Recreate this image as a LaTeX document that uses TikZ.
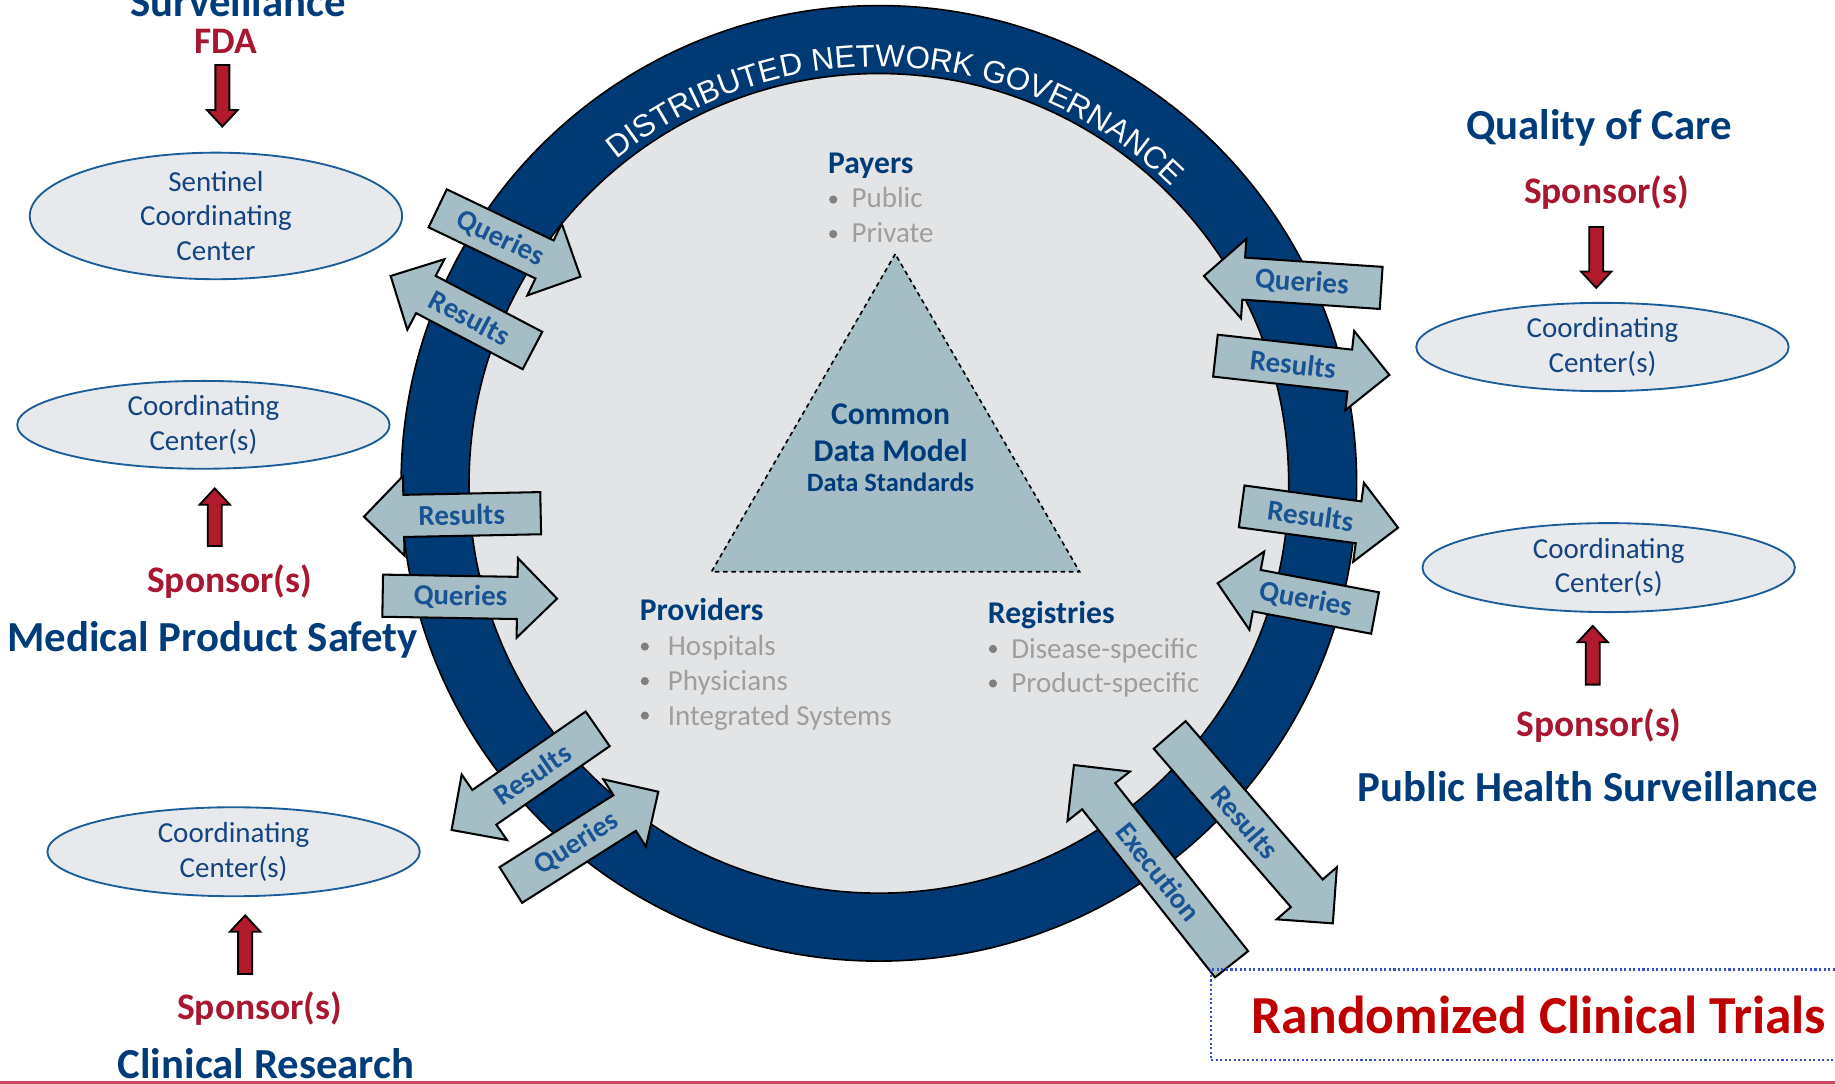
\documentclass[tikz,border=0pt]{standalone}
\usepackage{fontspec}
\setmainfont{Carlito}
\newfontfamily\ringsans{Liberation Sans}
\usetikzlibrary{calc,shapes.geometric,decorations.text}
\definecolor{titleblue}{RGB}{0,60,122}
\definecolor{ringblue}{RGB}{0,58,117}
\definecolor{sponsorred}{RGB}{168,22,48}
\definecolor{arrowred}{RGB}{178,26,46}
\definecolor{trialred}{RGB}{192,0,0}
\definecolor{hubgray}{RGB}{227,228,230}
\definecolor{ellipsefill}{RGB}{231,233,236}
\definecolor{ellipseline}{RGB}{28,92,152}
\definecolor{ellipsetext}{RGB}{20,68,128}
\definecolor{arrowteal}{RGB}{165,190,198}
\definecolor{arrowtext}{RGB}{24,84,148}
\definecolor{itemgray}{RGB}{158,158,158}
\definecolor{bulletgray}{RGB}{128,128,128}
\definecolor{dotblue}{RGB}{50,80,200}
\definecolor{rulered}{RGB}{205,75,95}

% block arrow: style, tail, tip, half shaft, half head, head length
\newcommand{\blockarrow}[6]{%
  \coordinate (ba-t) at #2;
  \coordinate (ba-p) at #3;
  \coordinate (ba-b) at ($(ba-p)!#6!(ba-t)$);
  \draw[#1] ($(ba-t)!#4!90:(ba-p)$) -- ($(ba-b)!#4!90:(ba-p)$)
    -- ($(ba-b)!#5!90:(ba-p)$) -- (ba-p)
    -- ($(ba-b)!#5!-90:(ba-p)$) -- ($(ba-b)!#4!-90:(ba-p)$)
    -- ($(ba-t)!#4!-90:(ba-p)$) -- cycle;}
% data flow arrow on the ring: tail, tip, label, label angle, name
\newcommand{\flowarrow}[5]{%
  \blockarrow{flow arrow}{#1}{#2}{0.18cm}{0.34cm}{0.34cm}
  \coordinate (ba-m) at ($(ba-t)!0.5!(ba-b)$);
  \node[flow label, rotate=#4] (#5) at ($(ba-m)!0.09cm!(ba-p)$) {#3};}

\begin{document}
\begin{tikzpicture}[x=0.01cm, y=0.01cm,
    title/.style={font=\fontsize{10.4}{12}\selectfont\bfseries, text=titleblue, anchor=base, inner sep=0pt},
    sponsor/.style={font=\fontsize{9.1}{11}\selectfont\bfseries, text=sponsorred, anchor=base, inner sep=0pt},
    centre/.style={ellipse, draw=ellipseline, line width=0.45pt, fill=ellipsefill, minimum width=3.18cm,
        minimum height=0.76cm, inner sep=0pt, align=center, font=\fontsize{7.05}{8.4}\selectfont, text=ellipsetext},
    flow arrow/.style={draw=black, fill=arrowteal, line width=0.5pt},
    flow label/.style={font=\fontsize{7.05}{8}\selectfont\bfseries, text=arrowtext, inner sep=0pt},
    sponsor arrow/.style={draw=black, fill=arrowred, line width=0.45pt},
    group head/.style={font=\fontsize{7.68}{9}\selectfont\bfseries, text=titleblue, anchor=base west, inner sep=0pt},
    item/.style={font=\fontsize{7.05}{8.4}\selectfont, text=itemgray, anchor=base west, inner sep=0pt},
    bullet/.style={circle, fill=bulletgray, inner sep=0pt, minimum size=0.07cm}
]

\useasboundingbox (0,0) rectangle (1568,-926);
\clip (0,0) rectangle (1568,-926);

% === Network ring ===
\node[circle, draw=black, line width=0.4pt, fill=ringblue, minimum size=8.16cm, inner sep=0pt] (ring) at (751,-413) {};
\node[circle, draw=black, line width=0.4pt, fill=hubgray, minimum size=7cm, inner sep=0pt] (hub) at (ring.center) {};
\path[decorate, decoration={text along path, text align={fit to path},
    text={|\ringsans\fontsize{7.6}{8}\selectfont\color{white}|DISTRIBUTED NETWORK GOVERNANCE}}]
    (ring.center) ++(129:356) arc[start angle=129, end angle=45.5, radius=356];

% === Common data model ===
\draw[fill=arrowteal, dash pattern=on 1.1pt off 0.9pt, line width=0.4pt] (765,-217) -- (608,-488.5) -- (922.5,-488.5) -- cycle;
\node[group head, anchor=base] (cdm1) at (761,-363) {Common};
\node[group head, anchor=base] (cdm2) at (761,-394.5) {Data Model};
\node[group head, anchor=base, font=\fontsize{6.43}{8}\selectfont\bfseries] (cdm3) at (761,-420) {Data Standards};

% Payers
\node[group head] (payers) at (707,-148.5) {Payers};
\foreach \txt [count=\i] in {Public, Private} {
    \node[item] (pay\i) at (727,{-177.5-29.5*(\i-1)}) {\txt};
    \node[bullet] (payb\i) at (712,{-170.5-29.5*(\i-1)}) {};
}

% Providers
\node[group head] (providers) at (546,-530.5) {Providers};
\foreach \txt [count=\i] in {Hospitals, Physicians, Integrated Systems} {
    \node[item] (prov\i) at (570,{-560.5-29.5*(\i-1)}) {\txt};
    \node[bullet] (provb\i) at (551,{-552.5-29.5*(\i-1)}) {};
}

% Registries
\node[group head] (registries) at (843.5,-532.5) {Registries};
\foreach \txt [count=\i] in {Disease-specific, Product-specific} {
    \node[item] (reg\i) at (863.5,{-562.5-29.5*(\i-1)}) {\txt};
    \node[bullet] (regb\i) at (848.5,{-554.5-29.5*(\i-1)}) {};
}

% === Queries and results across the ring ===
\flowarrow{(374,-178)}{(496,-236.4)}{Queries}{-25.6}{q1}
\flowarrow{(455,-299.5)}{(333.8,-235.8)}{Results}{-27.8}{r1}
\flowarrow{(462,-438.5)}{(311,-441.5)}{Results}{1.1}{r2}
\flowarrow{(327,-509)}{(476,-511.5)}{Queries}{-1}{q2}
\flowarrow{(510.7,-622.8)}{(385.9,-709.2)}{Results}{34.7}{r3}
\flowarrow{(436.5,-756.2)}{(562.5,-676.5)}{Queries}{32.3}{q3}
\flowarrow{(1180.2,-246)}{(1028.8,-235.8)}{Queries}{-3.9}{q4}
\flowarrow{(1038.6,-303.9)}{(1187.2,-320.4)}{Results}{-6.3}{r4}
\flowarrow{(1061,-432.7)}{(1194.6,-450.9)}{Results}{-7.8}{r5}
\flowarrow{(1175,-523.8)}{(1040.5,-498.4)}{Queries}{-10.7}{q5}
\flowarrow{(999.5,-628)}{(1138.9,-789)}{Results}{-49.1}{r6}
\flowarrow{(1052.4,-823.9)}{(917.7,-653.7)}{Execution}{-51.6}{ex}

% === Left: surveillance, product safety, research ===
\node[title] (surv) at (203.6,-14.5) {Surveillance};
\node[sponsor] (fda) at (192.6,-45.6) {FDA};
\node[centre, minimum height=0.91cm] (sentinel) at (184.5,-184.5) {Sentinel\\Coordinating\\Center};
\blockarrow{sponsor arrow}{($(fda.base)+(-2.6,-9.9)$)}{($(sentinel.north)+(5.5,21.5)$)}{0.06cm}{0.13cm}{0.14cm}

\node[centre, minimum height=0.75cm] (ccmps) at (173.8,-363) {Coordinating\\Center(s)};
\node[sponsor] (spmps) at (196.2,-506) {Sponsor(s)};
\node[title] (mps) at (181.8,-556.8) {Medical Product Safety};
\blockarrow{sponsor arrow}{($(spmps.base)+(-12.7,39.5)$)}{($(ccmps.south)+(9.7,-16)$)}{0.06cm}{0.13cm}{0.14cm}

\node[centre] (cccr) at (199.6,-727.8) {Coordinating\\Center(s)};
\node[sponsor] (spcr) at (221.8,-871) {Sponsor(s)};
\node[title] (cr) at (227.3,-921.4) {Clinical Research};
\blockarrow{sponsor arrow}{($(spcr.base)+(-12.3,38.7)$)}{($(cccr.south)+(9.9,-15.5)$)}{0.06cm}{0.13cm}{0.14cm}

% === Right: quality of care, public health ===
\node[title] (qoc) at (1366.5,-119.6) {Quality of Care};
\node[sponsor] (spqoc) at (1372.7,-174.3) {Sponsor(s)};
\node[centre, minimum height=0.754cm] (ccqoc) at (1369.3,-296.5) {Coordinating\\Center(s)};
\blockarrow{sponsor arrow}{($(spqoc.base)+(-8.7,-19.7)$)}{($(ccqoc.north)+(-5.3,12)$)}{0.06cm}{0.13cm}{0.14cm}

\node[centre] (ccphs) at (1374.6,-485) {Coordinating\\Center(s)};
\node[sponsor] (spphs) at (1366.5,-629) {Sponsor(s)};
\node[title] (phs) at (1357,-685) {Public Health Surveillance};
\blockarrow{sponsor arrow}{($(spphs.base)+(-5.5,44)$)}{($(ccphs.south)+(-13.6,-11)$)}{0.06cm}{0.13cm}{0.14cm}

% === Trials ===
\node[draw=dotblue, line width=0.6pt, dash pattern=on 0.5pt off 0.6pt, minimum width=5.6cm, minimum height=0.775cm,
    font=\fontsize{13}{15}\selectfont\bfseries, text=trialred] (rct) at (1315,-867) {Randomized Clinical Trials};

\draw[rulered, line width=0.5pt] (0,-925) -- (1568,-925);

\end{tikzpicture}
\end{document}
